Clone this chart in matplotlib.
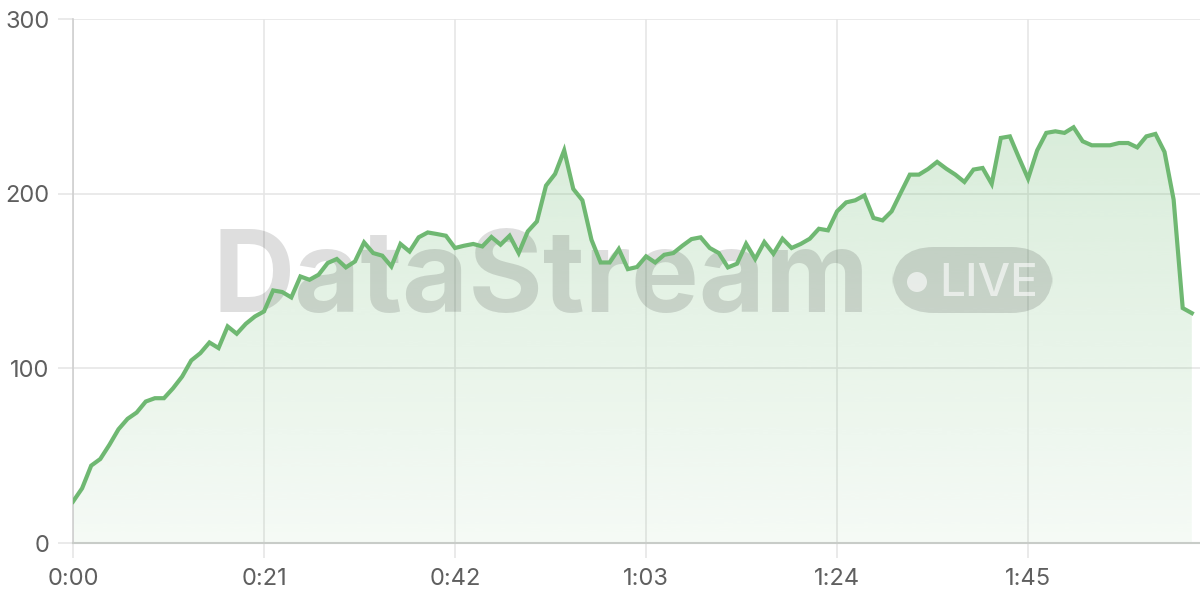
import numpy as np
import matplotlib
matplotlib.use("Agg")
import matplotlib.pyplot as plt
from matplotlib.patches import FancyBboxPatch, Ellipse

plt.rcParams['font.family'] = ['Inter', 'DejaVu Sans']

# one sample per second, 0:00 .. 2:03
seconds = list(range(124))
values = [
    23.7, 31.3, 44.3, 48.1, 56.2, 65.1, 71.1, 74.7, 81.0, 82.9,
    82.9, 88.6, 95.3, 104.5, 108.7, 114.8, 111.6, 124.0, 119.8, 125.5,
    129.7, 132.6, 144.6, 143.7, 140.6, 152.6, 150.7, 153.6, 160.3, 162.6,
    157.8, 161.2, 172.1, 166.0, 164.5, 158.3, 171.2, 166.9, 175.0, 177.8,
    176.9, 175.9, 168.9, 170.2, 171.2, 169.8, 175.2, 170.8, 175.9, 166.0,
    178.4, 184.1, 204.6, 211.3, 224.8, 202.7, 196.2, 173.6, 160.6, 160.6,
    168.3, 156.8, 158.0, 164.1, 160.6, 165.0, 166.0, 170.2, 174.0, 175.0,
    168.9, 166.0, 157.8, 159.9, 171.3, 162.6, 172.3, 165.6, 174.2, 168.9,
    171.2, 174.2, 179.9, 179.0, 189.9, 195.0, 196.2, 199.0, 186.1, 184.7,
    189.9, 200.5, 210.9, 210.9, 214.1, 218.2, 214.3, 210.9, 206.7, 213.8,
    214.7, 205.6, 231.9, 232.8, 220.5, 208.6, 224.8, 234.8, 235.7, 234.8,
    238.0, 230.0, 227.7, 227.7, 227.7, 229.0, 229.0, 226.5, 232.8, 234.2,
    223.9, 196.6, 134.5, 131.6,
]
tick_secs = [0, 21, 42, 63, 84, 105]
tick_labels = ['0:00', '0:21', '0:42', '1:03', '1:24', '1:45']
y_ticks = [0, 100, 200, 300]

line_col = '#6fb872'
grid_col = '#e6e6e6'
text_col = '#5f5f5f'

x = np.array(seconds, dtype=float)
y = np.array(values)

fig = plt.figure(figsize=(12, 6), dpi=100)
ax = fig.add_axes([73/1200, 57/600, 1 - 73/1200, (543 - 19)/600])
ax.set_xlim(0, 123.9)
ax.set_ylim(0, 300)

# gradient fill under the line
g = (0.45, 0.74, 0.47)
grad = np.linspace(0.07, 0.27, 256).reshape(-1, 1)
cmap = matplotlib.colors.LinearSegmentedColormap.from_list(
    'g', [(*g, 0), (*g, 1)])
img = ax.imshow(grad, aspect='auto', cmap=cmap, vmin=0, vmax=1,
                extent=[x[0], x[-1], 0, y.max()], origin='lower', zorder=1)
poly = ax.fill_between(x, y, 0, color='none', lw=0)
img.set_clip_path(poly.get_paths()[0], transform=ax.transData)

# watermark (under the line, over the fill)
tf = fig.transFigure
ax.text(212/1200, 1 - 312/600, 'DataStream', transform=tf, fontsize=82,
        fontweight='bold', color='black', alpha=0.13, ha='left',
        va='baseline', zorder=2, clip_on=False)
pill = FancyBboxPatch((892/1200, 1 - 313/600), 161/1200, 66/600,
                      boxstyle='round,pad=0,rounding_size=0.035',
                      transform=tf, facecolor='black', alpha=0.13, lw=0,
                      mutation_aspect=2, zorder=2, clip_on=False)
ax.add_patch(pill)
ax.add_patch(Ellipse((917/1200, 1 - 282/600), 20/1200, 20/600, transform=tf,
                     facecolor='white', alpha=0.6, lw=0, zorder=3,
                     clip_on=False))
ax.text(939/1200, 1 - 296/600, 'LIVE', transform=tf, fontsize=33,
        fontweight='medium', color='white', alpha=0.6, ha='left',
        va='baseline', zorder=3, clip_on=False)

ax.plot(x, y, color=line_col, lw=3, solid_joinstyle='miter', zorder=4)

ax.set_xticks(tick_secs)
ax.set_xticklabels(tick_labels)
ax.set_yticks(y_ticks)
ax.grid(True, color=grid_col, lw=1.2, zorder=0)
ax.set_axisbelow(True)
ax.tick_params(axis='both', length=11, width=1.2, color=grid_col,
               labelcolor=text_col, labelsize=17)
ax.tick_params(axis='x', pad=7)
ax.tick_params(axis='y', pad=6)
for s in ['top', 'right']:
    ax.spines[s].set_visible(False)
ax.spines['left'].set_color('#cfcfcf')
ax.spines['bottom'].set_color('#c8ccc8')
ax.spines['left'].set_linewidth(1.2)
ax.spines['bottom'].set_linewidth(1.5)

fig.savefig('out.png', dpi=100)
